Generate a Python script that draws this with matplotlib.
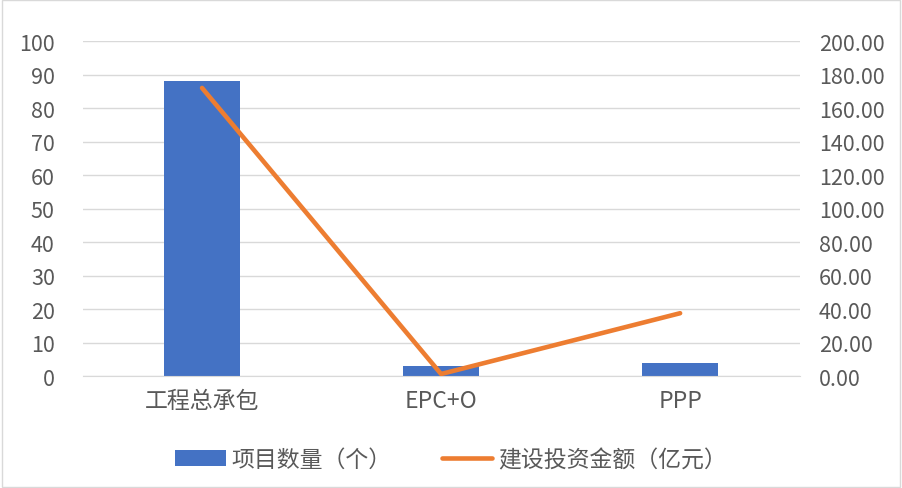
import matplotlib
matplotlib.use("Agg")
import matplotlib.pyplot as plt
from matplotlib.patches import Rectangle
import numpy as np

plt.rcParams['font.family'] = ['Noto Sans CJK SC', 'DejaVu Sans']
plt.rcParams['font.weight'] = 'light'

# data
categories = ["工程总承包", "EPC+O", "PPP"]
project_counts = [88, 3, 4]
investment = [172.0, 1.2, 37.5]

BAR_COLOR = "#4472C4"
LINE_COLOR = "#ED7D31"
TEXT_COLOR = "#595959"
GRID_COLOR = "#D9D9D9"

fig = plt.figure(figsize=(9.02, 4.89), dpi=100)
fig.set_facecolor("white")
fig.patches.append(Rectangle((0.002, 0.002), 0.996, 0.996, transform=fig.transFigure,
                             fill=False, edgecolor="#D9D9D9", linewidth=1))

ax = fig.add_axes([0.0915, 0.229, 0.795, 0.685])
x = np.arange(len(categories))

ax.bar(x, project_counts, width=0.32, color=BAR_COLOR, label="项目数量（个）", zorder=2)
ax.set_xlim(-0.5, len(categories) - 0.5)
ax.set_ylim(0, 100)
ax.set_yticks(range(0, 101, 10))
ax.grid(axis="y", color=GRID_COLOR, linewidth=1, zorder=0)
ax.set_axisbelow(True)
ax.set_xticks(x)
ax.set_xticklabels(categories)

ax2 = ax.twinx()
ax2.plot(x, investment, color=LINE_COLOR, linewidth=3.3, solid_capstyle="round",
         solid_joinstyle="round", label="建设投资金额（亿元）", zorder=3)
ax2.set_ylim(0, 200)
ax2.set_yticks(range(0, 201, 20))
ax2.set_yticklabels([f"{v:.2f}" for v in range(0, 201, 20)])

for a in (ax, ax2):
    for s in a.spines.values():
        s.set_visible(False)
    a.tick_params(length=0, labelsize=15.5, colors=TEXT_COLOR)
ax.spines["bottom"].set_visible(True)
ax.spines["bottom"].set_color(GRID_COLOR)
ax.tick_params(axis="x", pad=9, labelsize=16.5)
ax.tick_params(axis="y", pad=20)
ax2.tick_params(axis="y", pad=14)

h1, l1 = ax.get_legend_handles_labels()
h2, l2 = ax2.get_legend_handles_labels()
fig.legend(h1 + h2, l1 + l2, loc="center", bbox_to_anchor=(0.5, 0.058), ncol=2,
           frameon=False, fontsize=16.5, labelcolor=TEXT_COLOR, handlelength=2.2,
           columnspacing=2.2, handletextpad=0.25)

plt.savefig("out.png", dpi=100)
plt.close()
